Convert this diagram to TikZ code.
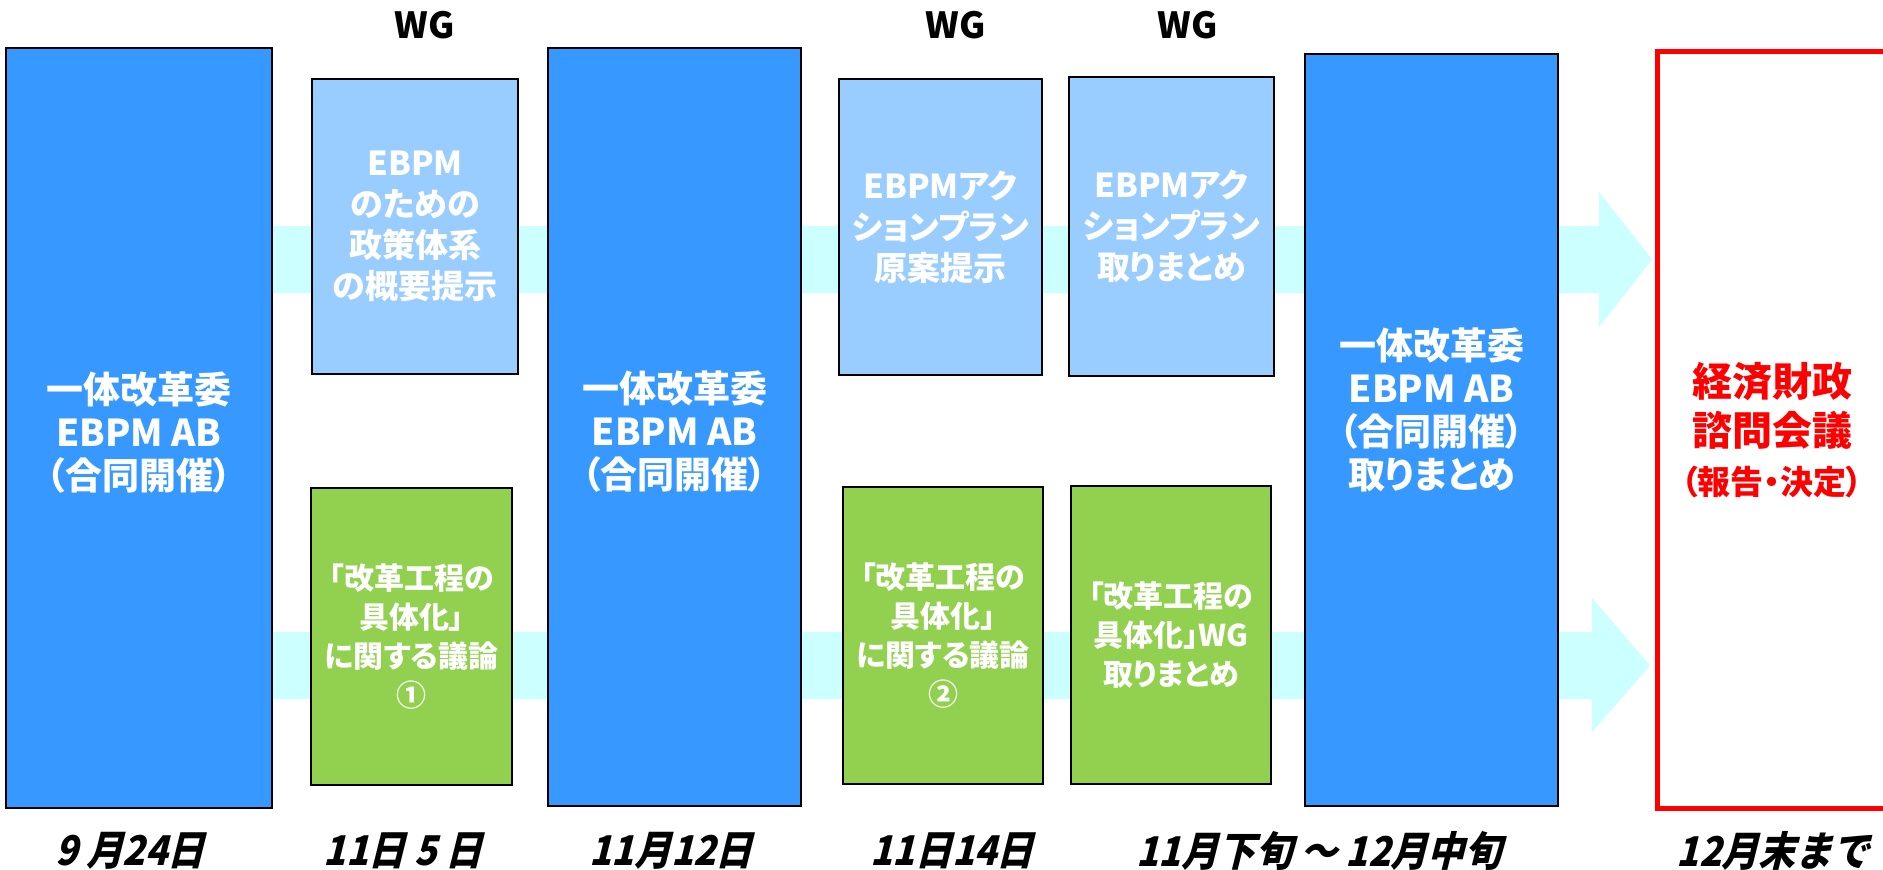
\documentclass[tikz,border=0pt]{standalone}
\usepackage{fontspec}
\setmainfont{Noto Sans CJK JP}[RawFeature=+palt]
\newfontfamily\datefont{Noto Sans CJK JP}[FakeSlant=0.25, FakeStretch=0.9]
\definecolor{cblue}{HTML}{3799FF}
\definecolor{clight}{HTML}{99CCFF}
\definecolor{cgreen}{HTML}{92D050}
\definecolor{ccyan}{HTML}{CCFFFF}
\definecolor{cred}{HTML}{FF0000}
\tikzset{
  box/.style={draw=black, line width=1.3pt, inner sep=0pt, align=center, text=white},
  bigbox/.style={box, fill=cblue, font=\fontsize{18.5}{21.5}\selectfont\bfseries},
  wgbox/.style={box, fill=clight, font=\fontsize{16.5}{20.5}\selectfont\bfseries},
  grbox/.style={box, fill=cgreen, font=\fontsize{15}{19.5}\selectfont\bfseries},
  redbox/.style={draw=cred, line width=2.5pt, fill=white, inner sep=0pt, align=center, text=cred, font=\fontsize{20}{24.5}\selectfont\bfseries},
  datelbl/.style={font=\datefont\bfseries\fontsize{20.5}{20.5}\selectfont, text=black},
  wglbl/.style={font=\fontsize{18}{18}\selectfont\bfseries, text=black},
  bigtext/.style={font=\fontsize{18.5}{21.5}\selectfont\bfseries, text=white, align=center},
  band/.style={fill=ccyan, draw=none}
}
\begin{document}
\begin{tikzpicture}[x=0.5pt, y=-0.5pt]
\useasboundingbox (0,0) rectangle (1883,869);
\fill[white] (0,0) rectangle (1883,869);
% flow arrows
\fill[band] (20,226) -- (1599,226) -- (1599,192) -- (1652,259.5) -- (1599,327) -- (1599,293) -- (20,293) -- cycle;
\fill[band] (20,632) -- (1592,632) -- (1592,598) -- (1650,665.5) -- (1592,732) -- (1592,699) -- (20,699) -- cycle;
% boxes
\node[bigbox, minimum width=133pt, minimum height=380pt] (b1) at (139,428) {};
\node[bigtext] (b1t) at (139,433) {一体改革委\\EBPM AB\\（合同開催）};
\node[wgbox, minimum width=103pt, minimum height=147.5pt] (w1) at (415,226.5) {EBPM\\のための\\政策体系\\の概要提示};
\node[grbox, minimum width=100.5pt, minimum height=148.5pt] (g1) at (411.5,636.5) {「改革工程の\\具体化」\\に関する議論\\①};
\node[bigbox, minimum width=126.5pt, minimum height=379pt] (b2) at (674.5,427) {};
\node[bigtext] (b2t) at (674.5,432) {一体改革委\\EBPM AB\\（合同開催）};
\node[wgbox, minimum width=101.5pt, minimum height=148pt] (w2) at (940.5,227) {EBPMアク\\ションプラン\\原案提示};
\node[wgbox, minimum width=102.5pt, minimum height=149.5pt] (w3) at (1171.5,226.5) {EBPMアク\\ションプラン\\取りまとめ};
\node[grbox, minimum width=100pt, minimum height=148.5pt] (g2) at (943,635.5) {「改革工程の\\具体化」\\に関する議論\\②};
\node[grbox, minimum width=100pt, minimum height=149pt] (g3) at (1171,635) {「改革工程の\\具体化」WG\\取りまとめ};
\node[bigbox, minimum width=126.5pt, minimum height=376pt] (b3) at (1431.5,430) {};
\node[bigtext] (b3t) at (1431.5,410) {一体改革委\\EBPM AB\\（合同開催）\\取りまとめ};
\node[redbox, minimum width=115pt, minimum height=378.5pt] (r) at (1772,429.5) {};
\node[font=\fontsize{20}{24.5}\selectfont\bfseries, text=cred, align=center] (rt) at (1772,430) {経済財政\\諮問会議\\{\fontsize{16.5}{21.5}\selectfont （報告・決定）}};
% WG labels
\node[wglbl] (wg1) at (425,25) {WG};
\node[wglbl] (wg2) at (956,25) {WG};
\node[wglbl] (wg3) at (1188,25) {WG};
% dates
\node[datelbl] (d1) at (130,851) {9 月24日};
\node[datelbl] (d2) at (403,851) {11日 5 日};
\node[datelbl] (d3) at (671,851) {11月12日};
\node[datelbl] (d4) at (952,851) {11日14日};
\node[datelbl] (d5) at (1319,851) {11月下旬 ～ 12月中旬};
\node[datelbl] (d6) at (1773,851) {12月末まで};
\end{tikzpicture}
\end{document}
